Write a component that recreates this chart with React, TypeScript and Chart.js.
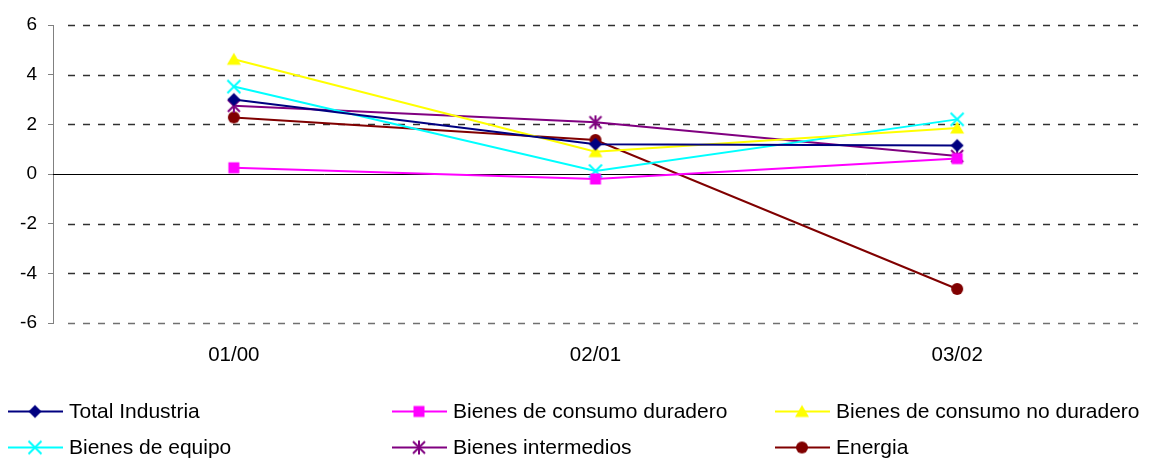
import React, { useEffect, useRef } from 'react';
import { Chart, registerables } from 'chart.js';

Chart.register(...registerables);

const categories = ['01/00', '02/01', '03/02'];
const totalIndustria = [3.0, 1.2, 1.15];
const consumoDuradero = [0.25, -0.2, 0.62];
const consumoNoDuradero = [4.62, 0.9, 1.85];
const equipo = [3.52, 0.12, 2.2];
const intermedios = [2.75, 2.08, 0.72];
const energia = [2.28, 1.37, -4.63];
const yTicks = [-6, -4, -2, 0, 2, 4, 6];

const seriesNames = [
  'Total Industria',
  'Bienes de consumo duradero',
  'Bienes de consumo no duradero',
  'Bienes de equipo',
  'Bienes intermedios',
  'Energia',
];
const seriesColors = ['#000080', '#FF00FF', '#FFFF00', '#00FFFF', '#800080', '#800000'];
const seriesMarkers = ['diamond', 'square', 'triangle', 'x', 'asterisk', 'circle'];

const FONT = '"Liberation Sans", Arial, sans-serif';

function makeMarker(kind: string, color: string): HTMLCanvasElement {
  const c = document.createElement('canvas');
  c.width = 18;
  c.height = 18;
  const ctx = c.getContext('2d')!;
  const m = 9;
  ctx.fillStyle = color;
  ctx.strokeStyle = color;
  ctx.lineWidth = 2;
  ctx.beginPath();
  switch (kind) {
    case 'diamond':
      ctx.moveTo(m, m - 6.5);
      ctx.lineTo(m + 6.5, m);
      ctx.lineTo(m, m + 6.5);
      ctx.lineTo(m - 6.5, m);
      ctx.closePath();
      ctx.fill();
      break;
    case 'square':
      ctx.rect(m - 5.5, m - 5.5, 11, 11);
      ctx.fill();
      break;
    case 'triangle':
      ctx.moveTo(m, m - 6.5);
      ctx.lineTo(m + 7, m + 5.5);
      ctx.lineTo(m - 7, m + 5.5);
      ctx.closePath();
      ctx.fill();
      break;
    case 'x':
      ctx.moveTo(m - 6.5, m - 6.5);
      ctx.lineTo(m + 6.5, m + 6.5);
      ctx.moveTo(m + 6.5, m - 6.5);
      ctx.lineTo(m - 6.5, m + 6.5);
      ctx.stroke();
      break;
    case 'asterisk':
      ctx.moveTo(m - 6, m - 6);
      ctx.lineTo(m + 6, m + 6);
      ctx.moveTo(m + 6, m - 6);
      ctx.lineTo(m - 6, m + 6);
      ctx.moveTo(m, m - 7);
      ctx.lineTo(m, m + 7);
      ctx.stroke();
      break;
    case 'circle':
      ctx.arc(m, m, 6, 0, Math.PI * 2);
      ctx.fill();
      break;
  }
  return c;
}

export default function App() {
  const canvasRef = useRef<HTMLCanvasElement | null>(null);

  useEffect(() => {
    document.body.style.margin = '0';
    const canvas = canvasRef.current;
    if (!canvas) return;
    const markers = seriesMarkers.map((k, i) => makeMarker(k, seriesColors[i]));
    const values = [totalIndustria, consumoDuradero, consumoNoDuradero, equipo, intermedios, energia];

    const gridPlugin = {
      id: 'customGrid',
      beforeDatasetsDraw(chart: any) {
        const ctx = chart.ctx;
        const y = chart.scales.y;
        const { left, right } = chart.chartArea;
        ctx.save();
        yTicks.forEach((v) => {
          if (v === 0) return;
          const py = Math.round(y.getPixelForValue(v)) + 0.5;
          ctx.beginPath();
          ctx.setLineDash([7, 8]);
          ctx.lineWidth = 1.3;
          ctx.strokeStyle = v === -6 ? '#707070' : '#303030';
          ctx.moveTo(left + 15, py);
          ctx.lineTo(right, py);
          ctx.stroke();
        });
        const pz = Math.round(y.getPixelForValue(0)) + 0.5;
        ctx.setLineDash([]);
        ctx.beginPath();
        ctx.strokeStyle = '#000000';
        ctx.lineWidth = 1;
        ctx.moveTo(left, pz);
        ctx.lineTo(right, pz);
        ctx.stroke();
        ctx.restore();
      },
    };

    const legendPlugin = {
      id: 'customLegend',
      afterDraw(chart: any) {
        const ctx = chart.ctx;
        const cols = [8, 392, 775];
        const rows = [411.5, 447.5];
        ctx.save();
        seriesNames.forEach((name, i) => {
          const x = cols[i % 3];
          const y = rows[Math.floor(i / 3)];
          ctx.beginPath();
          ctx.strokeStyle = seriesColors[i];
          ctx.lineWidth = 2;
          ctx.moveTo(x, y);
          ctx.lineTo(x + 55, y);
          ctx.stroke();
          ctx.drawImage(markers[i], x + 27 - 9, y - 9);
          ctx.fillStyle = '#000000';
          ctx.font = `21px ${FONT}`;
          ctx.textAlign = 'left';
          ctx.textBaseline = 'middle';
          ctx.fillText(name, x + 61, y + 1);
        });
        ctx.restore();
      },
    };

    const chart = new Chart(canvas, {
      type: 'line',
      data: {
        labels: categories,
        datasets: seriesNames.map((name, i) => ({
          label: name,
          data: values[i],
          borderColor: seriesColors[i],
          backgroundColor: seriesColors[i],
          borderWidth: 2,
          tension: 0,
          fill: false,
          pointStyle: markers[i] as any,
          pointRadius: 7,
        })),
      },
      options: {
        animation: false,
        responsive: false,
        devicePixelRatio: 1,
        layout: { padding: { left: 0, right: 12, top: 25, bottom: 85 } },
        plugins: {
          legend: { display: false },
          tooltip: { enabled: false },
        },
        scales: {
          x: {
            offset: true,
            grid: { display: false, drawTicks: false },
            border: { display: false },
            ticks: { color: '#000000', font: { family: FONT, size: 20.5 }, padding: 20 },
            afterFit: (s: any) => {
              s.height = 50;
            },
          },
          y: {
            min: -6,
            max: 6,
            ticks: { stepSize: 2, color: '#000000', font: { family: FONT, size: 19 }, padding: 11 },
            grid: { drawOnChartArea: false, drawTicks: true, tickLength: 5, color: '#808080' },
            border: { color: '#808080', width: 1 },
            afterFit: (s: any) => {
              s.width = 53;
            },
          },
        },
      },
      plugins: [gridPlugin, legendPlugin],
    });

    return () => {
      chart.destroy();
    };
  }, []);

  return (
    <div style={{ width: 1150, height: 458, background: '#ffffff' }}>
      <canvas ref={canvasRef} width={1150} height={458} style={{ display: 'block' }} />
    </div>
  );
}
